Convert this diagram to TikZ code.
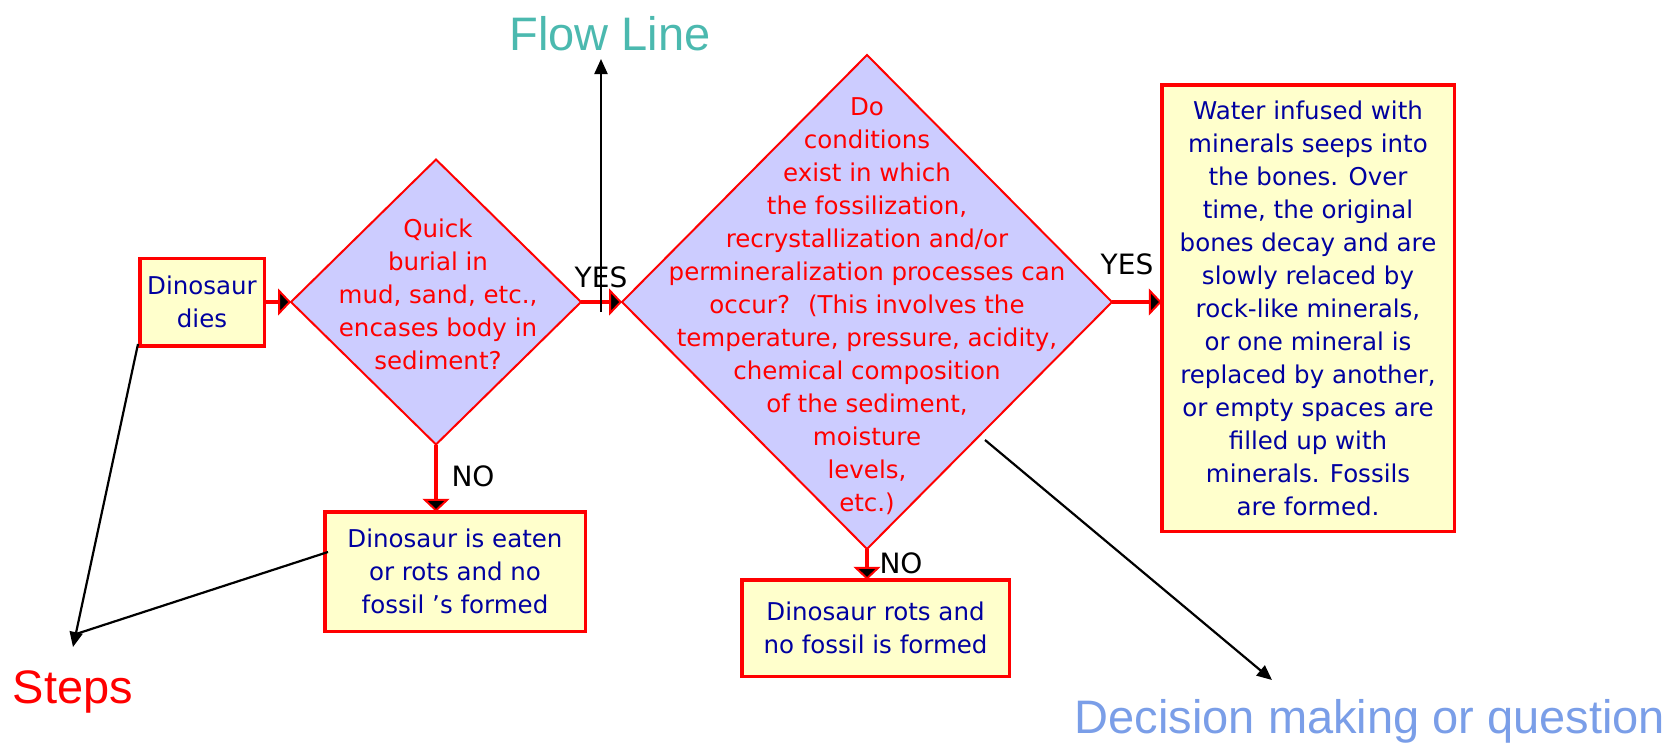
\documentclass[tikz,border=0pt]{standalone}
\usepackage{fontspec}
\setmainfont{DejaVu Sans}
\newfontfamily\labelfont{Liberation Sans}
\usetikzlibrary{shapes.geometric,arrows.meta}
\definecolor{boxfill}{HTML}{FFFFCC}
\definecolor{dfill}{HTML}{CCCCFF}
\definecolor{dblue}{RGB}{0,0,160}
\definecolor{flowteal}{RGB}{75,185,175}
\definecolor{decblue}{RGB}{122,158,232}
\begin{document}
\begin{tikzpicture}[x=1pt,y=-1pt,
  stepbox/.style={draw=red, line width=3.5pt, fill=boxfill, inner sep=0pt, outer sep=0pt, align=center, text=dblue, font=\fontsize{24.5}{33}\selectfont},
  decision/.style={diamond, draw=red, line width=2pt, fill=dfill, inner sep=0pt, outer sep=0pt},
  dtext/.style={align=center, text=red, font=\fontsize{24.5}{33}\selectfont, inner sep=0pt},
  answer/.style={font=\fontsize{28}{30}\selectfont, inner sep=0pt, text=black},
  flow/.style={draw=red, line width=3.5pt, -{Triangle[length=13pt,width=27pt,fill=black,line width=2pt 0]}},
  annot/.style={draw=black, line width=2.2pt, -{Triangle[length=15pt,width=13pt]}},
  plainannot/.style={draw=black, line width=2.2pt},
  callout/.style={font=\labelfont\fontsize{47}{50}\selectfont, inner sep=0pt, anchor=base}
]
\useasboundingbox[fill=white] (0,0) rectangle (1679,745);

% process boxes
\node[stepbox, minimum width=124.5pt, minimum height=87.5pt] (dies) at (202,302) {Dinosaur\\dies};
\node[stepbox, minimum width=260.5pt, minimum height=119.5pt] (eaten) at (455,571.5) {Dinosaur is eaten\\or rots and no\\fossil 's formed};
\node[stepbox, minimum width=267.5pt, minimum height=96.5pt] (rots) at (875.5,628) {Dinosaur rots and\\no fossil is formed};
\node[stepbox, minimum width=292.5pt, minimum height=446.5pt] (water) at (1308,308) {Water infused with\\minerals seeps into\\the bones. Over\\time, the original\\bones decay and are\\slowly relaced by\\rock-like minerals,\\or one mineral is\\replaced by another,\\or empty spaces are\\filled up with\\minerals. Fossils\\are formed.};

% decisions
\node[decision, minimum width=290pt, minimum height=285pt] (d1) at (436,302) {};
\node[dtext] (q1) at (438,294) {Quick\\burial in\\mud, sand, etc.,\\encases body in\\sediment?};
\node[decision, minimum width=490pt, minimum height=494pt] (d2) at (867,302) {};
\node[dtext] (q2) at (867,306) {Do\\conditions\\exist in which\\the fossilization,\\recrystallization and/or\\permineralization processes can\\occur?~ (This involves the\\temperature, pressure, acidity,\\chemical composition\\of the sediment,\\moisture\\levels,\\etc.)};

% flow connectors
\draw[flow] (dies.east) -- (d1.west);
\draw[flow] (d1.east) -- (d2.west);
\draw[flow] (d1.south) -- (d1.south |- eaten.north);
\draw[flow] (d2.south) -- (d2.south |- rots.north);
\draw[flow] (d2.east) -- (d2.east -| water.west);

% answers
\node[answer] (yes1) at (601,277) {YES};
\node[answer] (no1) at (473,476) {NO};
\node[answer] (yes2) at (1127,264) {YES};
\node[answer] (no2) at (901,563) {NO};

% callouts
\node[callout, text=flowteal] (flowlbl) at (610,50) {Flow Line};
\node[callout, text=red] (stepslbl) at (73,703) {Steps};
\node[callout, text=decblue] (declbl) at (1370,733) {Decision making or question};

\coordinate (flowStart) at (601,312);
\coordinate (flowTip) at (601,59);
\coordinate (stepsA) at (138,344);
\coordinate (stepsB) at (328,552);
\coordinate (stepsTip) at (73,647);
\coordinate (stepsJoin) at (76,634);
\coordinate (decStart) at (985,440);
\coordinate (decTip) at (1272,680);

\draw[annot] (flowStart) -- (flowTip);
\draw[annot] (stepsA) -- (stepsTip);
\draw[plainannot] (stepsB) -- (stepsJoin);
\draw[annot] (decStart) -- (decTip);
\end{tikzpicture}
\end{document}
